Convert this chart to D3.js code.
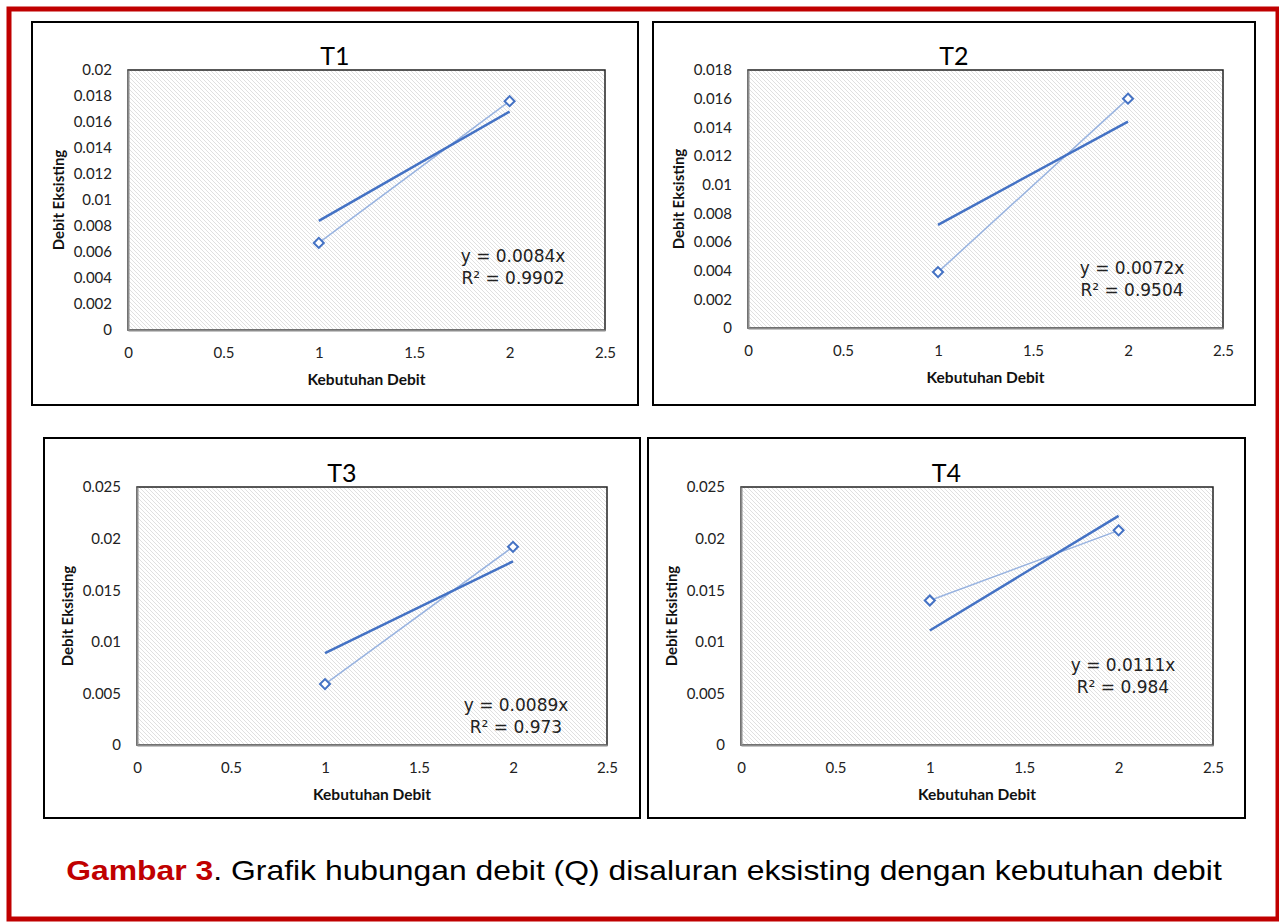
<!DOCTYPE html>
<html>
<head>
<meta charset="utf-8">
<script src="https://cdn.jsdelivr.net/npm/d3@7"></script>
<style>
  body { margin: 0; background: #fff; }
  svg { display: block; }
</style>
</head>
<body>
<div class="canvas"></div>
<script>
// chart data
const titles = ['T1', 'T2', 'T3', 'T4'];
const kebutuhan = [1, 2];
const debitT1 = [0.0067, 0.0176];
const debitT2 = [0.0039, 0.016];
const debitT3 = [0.0059, 0.0192];
const debitT4 = [0.014, 0.0208];
const slopes = [0.0084, 0.0072, 0.0089, 0.0111];
const slopeLabels = ['0.0084', '0.0072', '0.0089', '0.0111'];
const r2Labels = ['0.9902', '0.9504', '0.973', '0.984'];
const yMaxes = [0.02, 0.018, 0.025, 0.025];
const yTickSteps = [0.002, 0.002, 0.005, 0.005];
const xTicks = [0, 0.5, 1, 1.5, 2, 2.5];
const xLabel = 'Kebutuhan Debit';
const yLabel = 'Debit Eksisting';

const series = [debitT1, debitT2, debitT3, debitT4];

// layout of each panel (box, plot area, equation spot)
const layout = [
    {box: [32, 22, 638, 405], plot: [128, 70, 605, 330], eq: [513, 256]},
    {box: [653, 22, 1255, 405], plot: [748, 70, 1223, 328], eq: [1132, 268]},
    {box: [44, 438, 640, 818], plot: [137, 487, 607, 745], eq: [516, 705]},
    {box: [648, 438, 1245, 818], plot: [741, 487, 1213, 745], eq: [1123, 665]}
];

const blue = '#4472c4';
const lightBlue = '#98b3e0';

const svg = d3.select('.canvas')
    .append('svg')
    .attr('width', 1279)
    .attr('height', 923);

// hatch pattern for plot background
const defs = svg.append('defs');
const pat = defs.append('pattern')
    .attr('id', 'hatch')
    .attr('patternUnits', 'userSpaceOnUse')
    .attr('width', 4)
    .attr('height', 4);
pat.append('rect').attr('width', 4).attr('height', 4).attr('fill', '#fff');
pat.append('path')
    .attr('d', 'M-1,-1 L5,5 M-1,3 L1,5 M3,-1 L5,1')
    .attr('stroke', '#e0e0e0')
    .attr('stroke-width', 1);

// outer red frame
svg.append('rect')
    .attr('x', 9).attr('y', 9)
    .attr('width', 1269).attr('height', 910)
    .attr('fill', 'none')
    .attr('stroke', '#c00000')
    .attr('stroke-width', 5);

const drawPanel = (i) => {
    const L = layout[i];
    const [bx0, by0, bx1, by1] = L.box;
    const [pl, pt, pr, pb] = L.plot;
    const data = kebutuhan.map((k, j) => ({x: k, y: series[i][j]}));

    // panel frame
    svg.append('rect')
        .attr('x', bx0).attr('y', by0)
        .attr('width', bx1 - bx0).attr('height', by1 - by0)
        .attr('fill', '#fff')
        .attr('stroke', '#000')
        .attr('stroke-width', 2);

    const x = d3.scaleLinear().domain([0, 2.5]).range([pl, pr]);
    const y = d3.scaleLinear().domain([0, yMaxes[i]]).range([pb, pt]);

    const g = svg.append('g');

    // plot area
    g.append('rect')
        .attr('x', pl).attr('y', pt)
        .attr('width', pr - pl).attr('height', pb - pt)
        .attr('fill', 'url(#hatch)')
        .attr('stroke', '#222')
        .attr('stroke-width', 1.5);

    // y axis
    const yTicks = d3.range(0, yMaxes[i] + 1e-9, yTickSteps[i]);
    const yAxis = g.append('g')
        .attr('transform', `translate(${pl},0)`)
        .call(d3.axisLeft(y).tickValues(yTicks).tickSize(0).tickPadding(16)
            .tickFormat(d => +d.toFixed(4)));
    yAxis.select('.domain').attr('stroke', '#8c8c8c').attr('stroke-width', 2);

    // x axis
    const xAxis = g.append('g')
        .attr('transform', `translate(0,${pb})`)
        .call(d3.axisBottom(x).tickValues(xTicks).tickSize(0).tickPadding(17)
            .tickFormat(d => d));
    xAxis.select('.domain').attr('stroke', '#8c8c8c').attr('stroke-width', 2);

    g.selectAll('.tick text')
        .attr('font-family', 'Lato, sans-serif')
        .attr('font-size', 15)
        .attr('fill', '#222');

    // titles
    g.append('text')
        .attr('x', (bx0 + bx1) / 2).attr('y', pt - 5)
        .attr('text-anchor', 'middle')
        .attr('font-family', 'Lato, sans-serif')
        .attr('font-size', 25)
        .attr('fill', '#000')
        .text(titles[i]);

    g.append('text')
        .attr('x', (pl + pr) / 2).attr('y', pb + 55)
        .attr('text-anchor', 'middle')
        .attr('font-family', 'Lato, sans-serif')
        .attr('font-weight', 'bold')
        .attr('font-size', 15.5)
        .attr('fill', '#111')
        .text(xLabel);

    g.append('text')
        .attr('transform', `translate(${pl - 64},${(pt + pb) / 2}) rotate(-90)`)
        .attr('text-anchor', 'middle')
        .attr('font-family', 'Lato, sans-serif')
        .attr('font-weight', 'bold')
        .attr('font-size', 15)
        .attr('fill', '#111')
        .text(yLabel);

    // data line
    const line = d3.line().x(d => x(d.x)).y(d => y(d.y));
    g.append('path')
        .datum(data)
        .attr('d', line)
        .attr('fill', 'none')
        .attr('stroke', lightBlue)
        .attr('stroke-width', 1.5);

    // trendline y = a x over data range
    const trend = kebutuhan.map(k => ({x: k, y: slopes[i] * k}));
    g.append('path')
        .datum(trend)
        .attr('d', line)
        .attr('fill', 'none')
        .attr('stroke', blue)
        .attr('stroke-width', 2.5);

    // markers
    g.selectAll('.marker')
        .data(data)
        .enter()
        .append('path')
        .attr('class', 'marker')
        .attr('d', d3.symbol().type(d3.symbolSquare).size(50))
        .attr('transform', d => `translate(${x(d.x)},${y(d.y)}) rotate(45)`)
        .attr('fill', '#fff')
        .attr('stroke', blue)
        .attr('stroke-width', 2);

    // equation label
    const eq = g.append('text')
        .attr('text-anchor', 'middle')
        .attr('font-family', 'DejaVu Sans, sans-serif')
        .attr('font-size', 17)
        .attr('fill', '#222');
    eq.append('tspan')
        .attr('x', L.eq[0]).attr('y', L.eq[1] + 6)
        .text(`y = ${slopeLabels[i]}x`);
    eq.append('tspan')
        .attr('x', L.eq[0]).attr('y', L.eq[1] + 28)
        .text(`R² = ${r2Labels[i]}`);
};

titles.forEach((t, i) => drawPanel(i));

// caption (stretched horizontally like the source)
const cap = svg.append('text')
    .attr('transform', 'translate(644,880) scale(1.139,1)')
    .attr('text-anchor', 'middle')
    .attr('font-family', 'Liberation Sans, Arial, sans-serif')
    .attr('font-size', 28)
    .attr('fill', '#000');
cap.append('tspan')
    .attr('font-weight', 'bold')
    .attr('fill', '#c00000')
    .text('Gambar 3');
cap.append('tspan')
    .text('. Grafik hubungan debit (Q) disaluran eksisting dengan kebutuhan debit');
</script>
</body>
</html>
